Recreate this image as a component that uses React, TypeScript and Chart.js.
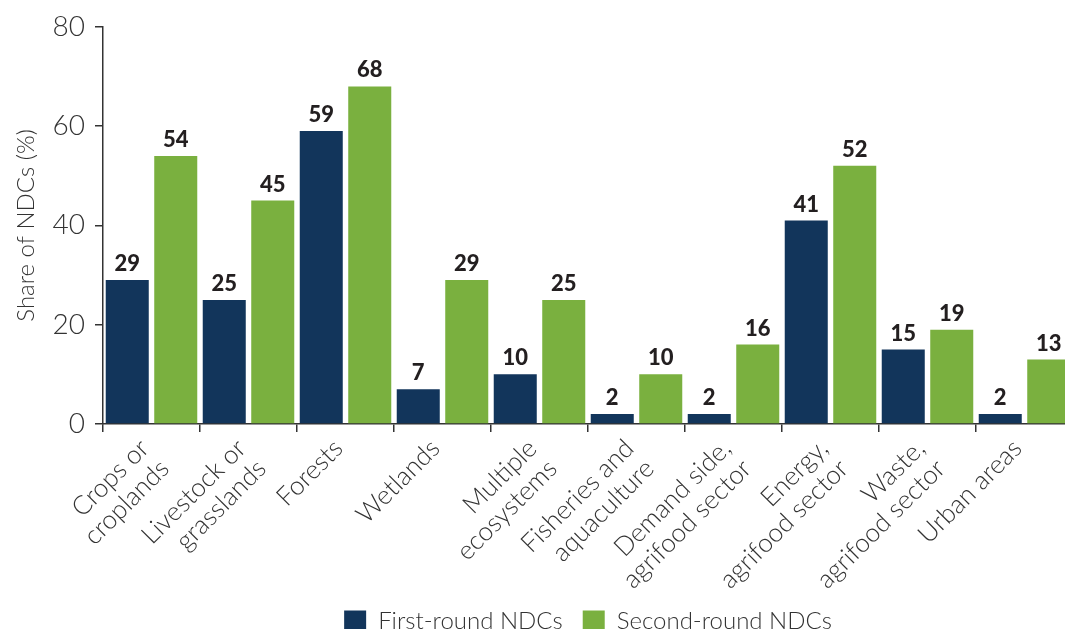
import React, { useEffect, useRef } from "react";
import { Chart, registerables } from "chart.js";

Chart.register(...registerables);

const categories: (string | string[])[] = [
  ["Crops or", "croplands"],
  ["Livestock or", "grasslands"],
  "Forests",
  "Wetlands",
  ["Multiple", "ecosystems"],
  ["Fisheries and", "aquaculture"],
  ["Demand side,", "agrifood sector"],
  ["Energy,", "agrifood sector"],
  ["Waste,", "agrifood sector"],
  "Urban areas",
];
const firstRound = [29, 25, 59, 7, 10, 2, 2, 41, 15, 2];
const secondRound = [54, 45, 68, 29, 25, 10, 16, 52, 19, 13];
const yTicks = [0, 20, 40, 60, 80];

const NAVY = "#12355b";
const GREEN = "#7ab03f";
const FONT = "Lato";

const valueLabels = {
  id: "valueLabels",
  afterDatasetsDraw(chart: any) {
    const ctx = chart.ctx;
    ctx.save();
    ctx.font = `900 22px ${FONT}`;
    ctx.fillStyle = "#231f20";
    ctx.textAlign = "center";
    ctx.textBaseline = "bottom";
    chart.data.datasets.forEach((ds: any, i: number) => {
      const meta = chart.getDatasetMeta(i);
      meta.data.forEach((bar: any, j: number) => {
        ctx.fillText(String(ds.data[j]), bar.x, bar.y - 5);
      });
    });
    ctx.restore();
  },
};

export default function App() {
  const ref = useRef<HTMLCanvasElement>(null);
  useEffect(() => {
    if (!ref.current) return;
    const chart = new Chart(ref.current, {
      type: "bar",
      data: {
        labels: categories,
        datasets: [
          { label: "First-round NDCs", data: firstRound, backgroundColor: NAVY },
          { label: "Second-round NDCs", data: secondRound, backgroundColor: GREEN },
        ],
      },
      options: {
        animation: false,
        responsive: false,
        maintainAspectRatio: false,
        layout: { padding: { top: 25, right: 103, left: 0, bottom: 0 } },
        datasets: { bar: { categoryPercentage: 1, barPercentage: 0.887 } },
        plugins: {
          tooltip: { enabled: false },
          legend: {
            position: "bottom",
            fullSize: false,
            labels: {
              color: "#333",
              font: { family: FONT, size: 24, weight: "300" },
              boxWidth: 22,
              boxHeight: 21,
              padding: 20,
            },
          },
        },
        scales: {
          x: {
            grid: { display: true, drawOnChartArea: false, offset: true, tickLength: 8, color: "#333", lineWidth: 1.5 },
            border: { color: "#333", width: 1.5 },
            ticks: {
              autoSkip: false,
              maxRotation: 45,
              minRotation: 45,
              color: "#333",
              padding: 2,
              labelOffset: -7,
              font: { family: FONT, size: 26, weight: "300", lineHeight: 1.1 },
            },
            afterFit(scale: any) {
              scale.height = 165;
            },
          },
          y: {
            min: 0,
            max: 80,
            afterBuildTicks(scale: any) {
              scale.ticks = yTicks.map((v) => ({ value: v }));
            },
            grid: { display: true, drawOnChartArea: false, tickLength: 8, color: "#333", lineWidth: 1.5 },
            border: { color: "#333", width: 1.5 },
            ticks: {
              color: "#333",
              padding: 10,
              font: { family: FONT, size: 28, weight: "300" },
            },
            title: {
              display: true,
              text: "Share of NDCs (%)",
              color: "#333",
              font: { family: FONT, size: 24, weight: "300" },
              padding: { top: 12, bottom: 0 },
            },
            afterFit(scale: any) {
              scale.width = 103;
            },
          },
        },
      },
      plugins: [valueLabels],
    });
    return () => chart.destroy();
  }, []);
  return (
    <div style={{ position: "fixed", left: 0, top: 0, width: 1065, height: 629, overflow: "hidden", background: "#fff" }}>
      <canvas ref={ref} width={1176} height={643} style={{ display: "block" }} />
    </div>
  );
}
